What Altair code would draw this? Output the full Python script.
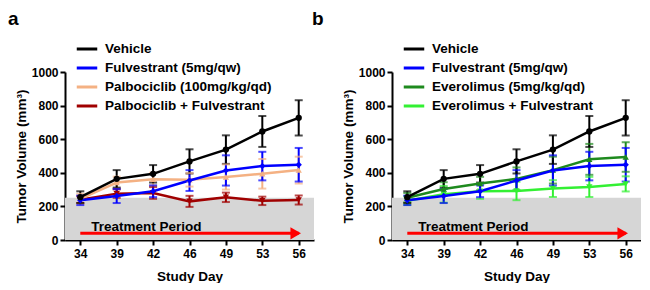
import altair as alt
import pandas as pd

# ---------------- data ----------------
days = [34, 39, 42, 46, 49, 53, 56]

vehicle_mean = [255, 364, 394, 468, 538, 646, 727]
vehicle_err = [35, 52, 52, 72, 85, 92, 105]

fulv_mean = [236, 262, 290, 354, 414, 440, 448]
fulv_err = [28, 42, 35, 62, 90, 85, 100]

palbo_mean = [245, 342, 362, 358, 375, 394, 416]
palbo_err = [30, 35, 38, 40, 75, 88, 80]

palbo_fulv_mean = [240, 276, 280, 230, 254, 233, 238]
palbo_fulv_err = [20, 25, 35, 33, 28, 25, 27]

evero_mean = [252, 304, 336, 364, 416, 480, 494]
evero_err = [28, 40, 40, 68, 80, 92, 88]

evero_fulv_mean = [234, 272, 290, 292, 306, 316, 334]
evero_fulv_err = [25, 50, 45, 55, 50, 60, 45]

panel_a_names = ["Vehicle", "Fulvestrant (5mg/qw)", "Palbociclib (100mg/kg/qd)",
                 "Palbociclib + Fulvestrant"]
panel_a_colors = ["#000000", "#0000FF", "#F4B183", "#A00000"]
panel_a_shapes = ["circle", "diamond", "triangle-up", "triangle-down"]

panel_b_names = ["Vehicle", "Fulvestrant (5mg/qw)", "Everolimus (5mg/kg/qd)",
                 "Everolimus + Fulvestrant"]
panel_b_colors = ["#000000", "#0000FF", "#1E8A1E", "#33F033"]
panel_b_shapes = ["circle", "diamond", "triangle-up", "triangle-down"]

treatment_days = [34, 56]
treatment_level = 40
treatment_label = "Treatment Period"
treatment_label_level = 54
band_top = 252
y_ticks = [0, 200, 400, 600, 800, 1000]

FONT = "Liberation Sans"
W, H = 249, 168


def build_df(names, means, errs, colors, shapes):
    rows = []
    # reversed so Vehicle is drawn last (on top)
    for name, m, e, c, s_ in reversed(list(zip(names, means, errs, colors, shapes))):
        for d, v, s in zip(days, m, e):
            rows.append({"series": name, "marker": s_, "fillcolor": c, "day": d,
                         "mean": v, "low": v - s, "high": v + s})
    return pd.DataFrame(rows)


XSCALE = alt.Scale(type="point", padding=0.42)
YSCALE = alt.Scale(domain=[0, 1000], nice=False)
XAXIS = alt.Axis(title="Study Day", labelAngle=0, labelAlign="center")
YAXIS = alt.Axis(title="Tumor Volume (mm³)", values=y_ticks, labelOverlap=False,
                 format="d")


def X(field="day"):
    return alt.X(f"{field}:O", scale=XSCALE, axis=XAXIS)


def Y(field):
    return alt.Y(f"{field}:Q", scale=YSCALE, axis=YAXIS)


def panel(letter, names, means, errs, colors, shapes, letter_dx):
    df = build_df(names, means, errs, colors, shapes)
    cscale = alt.Scale(domain=names, range=colors)
    legend = alt.Legend(
        orient="none", legendX=10, legendY=-35, title=None,
        symbolType="stroke", symbolStrokeWidth=3, symbolSize=420, symbolOpacity=1,
        labelFont=FONT, labelFontSize=13.5, labelFontWeight="bold",
        labelColor="#000000", labelOffset=6, labelLimit=400, rowPadding=-3)
    color = alt.Color("series:N", scale=cscale, sort=names, legend=legend)

    band = alt.Chart(pd.DataFrame({"lo": [0], "hi": [band_top]})).mark_rect(
        color="#D6D6D6").encode(y=Y("lo"), y2="hi:Q")

    arrow_df = pd.DataFrame({"day": [treatment_days[0]], "day_end": [treatment_days[1]],
                             "lvl": [treatment_level]})
    arrow_line = alt.Chart(arrow_df).mark_rule(color="#FF0000", strokeWidth=3).encode(
        x=X(), x2="day_end:O", y=Y("lvl"))
    head_df = pd.DataFrame({"day": [treatment_days[1]], "lvl": [treatment_level]})
    arrow_head = alt.Chart(head_df).mark_point(
        shape="triangle-right", filled=True, color="#FF0000", opacity=1,
        size=150, xOffset=-3).encode(x=X(), y=Y("lvl"))
    label_df = pd.DataFrame({"day": [treatment_days[0]], "lvl": [treatment_label_level],
                             "txt": [treatment_label]})
    label = alt.Chart(label_df).mark_text(
        align="left", baseline="alphabetic", dx=11, font=FONT, fontSize=13.5,
        fontWeight="bold", color="#000000").encode(x=X(), y=Y("lvl"), text="txt:N")

    letter_mark = alt.Chart(pd.DataFrame({"txt": [letter]})).mark_text(
        align="left", baseline="alphabetic", font=FONT, fontSize=19,
        fontWeight="bold", color="#000000").encode(
        x=alt.value(letter_dx), y=alt.value(-47), text="txt:N")

    base = alt.Chart(df)
    lines = base.mark_line(strokeWidth=2.5).encode(x=X(), y=Y("mean"), color=color)
    rules = base.mark_rule(strokeWidth=2).encode(
        x=X(), y=Y("low"), y2="high:Q", color=color)
    caps_lo = base.mark_tick(size=8, thickness=2).encode(
        x=X(), y=Y("low"), color=color)
    caps_hi = base.mark_tick(size=8, thickness=2).encode(
        x=X(), y=Y("high"), color=color)
    points = base.mark_point(filled=True, opacity=1, size=40, strokeWidth=0).encode(
        x=X(), y=Y("mean"),
        fill=alt.Fill("fillcolor:N", scale=None),
        shape=alt.Shape("marker:N", scale=None))

    return alt.layer(band, arrow_line, arrow_head, label, rules, caps_lo, caps_hi,
                     lines, points, letter_mark).properties(width=W, height=H)


pa = panel("a", panel_a_names, [vehicle_mean, fulv_mean, palbo_mean, palbo_fulv_mean],
           [vehicle_err, fulv_err, palbo_err, palbo_fulv_err],
           panel_a_colors, panel_a_shapes, -57)
pb = panel("b", panel_b_names, [vehicle_mean, fulv_mean, evero_mean, evero_fulv_mean],
           [vehicle_err, fulv_err, evero_err, evero_fulv_err],
           panel_b_colors, panel_b_shapes, -80)

chart = alt.hconcat(pa, pb, spacing=78, bounds="flush").resolve_scale(
    color="independent").resolve_legend(color="independent").properties(
    padding={"top": 2, "left": 0, "right": 0, "bottom": 0}).configure_view(
    stroke=None).configure_axis(
    domainColor="#000000", domainWidth=2, tickColor="#000000", tickWidth=2, tickSize=5,
    labelFont=FONT, labelFontSize=12, labelFontWeight="bold", labelColor="#000000",
    titleFont=FONT, titleFontSize=13.5, titleFontWeight="bold", titleColor="#000000",
    grid=False).configure_axisX(labelPadding=3, titlePadding=10).configure_axisY(
    labelPadding=2, titlePadding=3)

chart.save("out.html", embed_options={"renderer": "svg", "actions": False})
